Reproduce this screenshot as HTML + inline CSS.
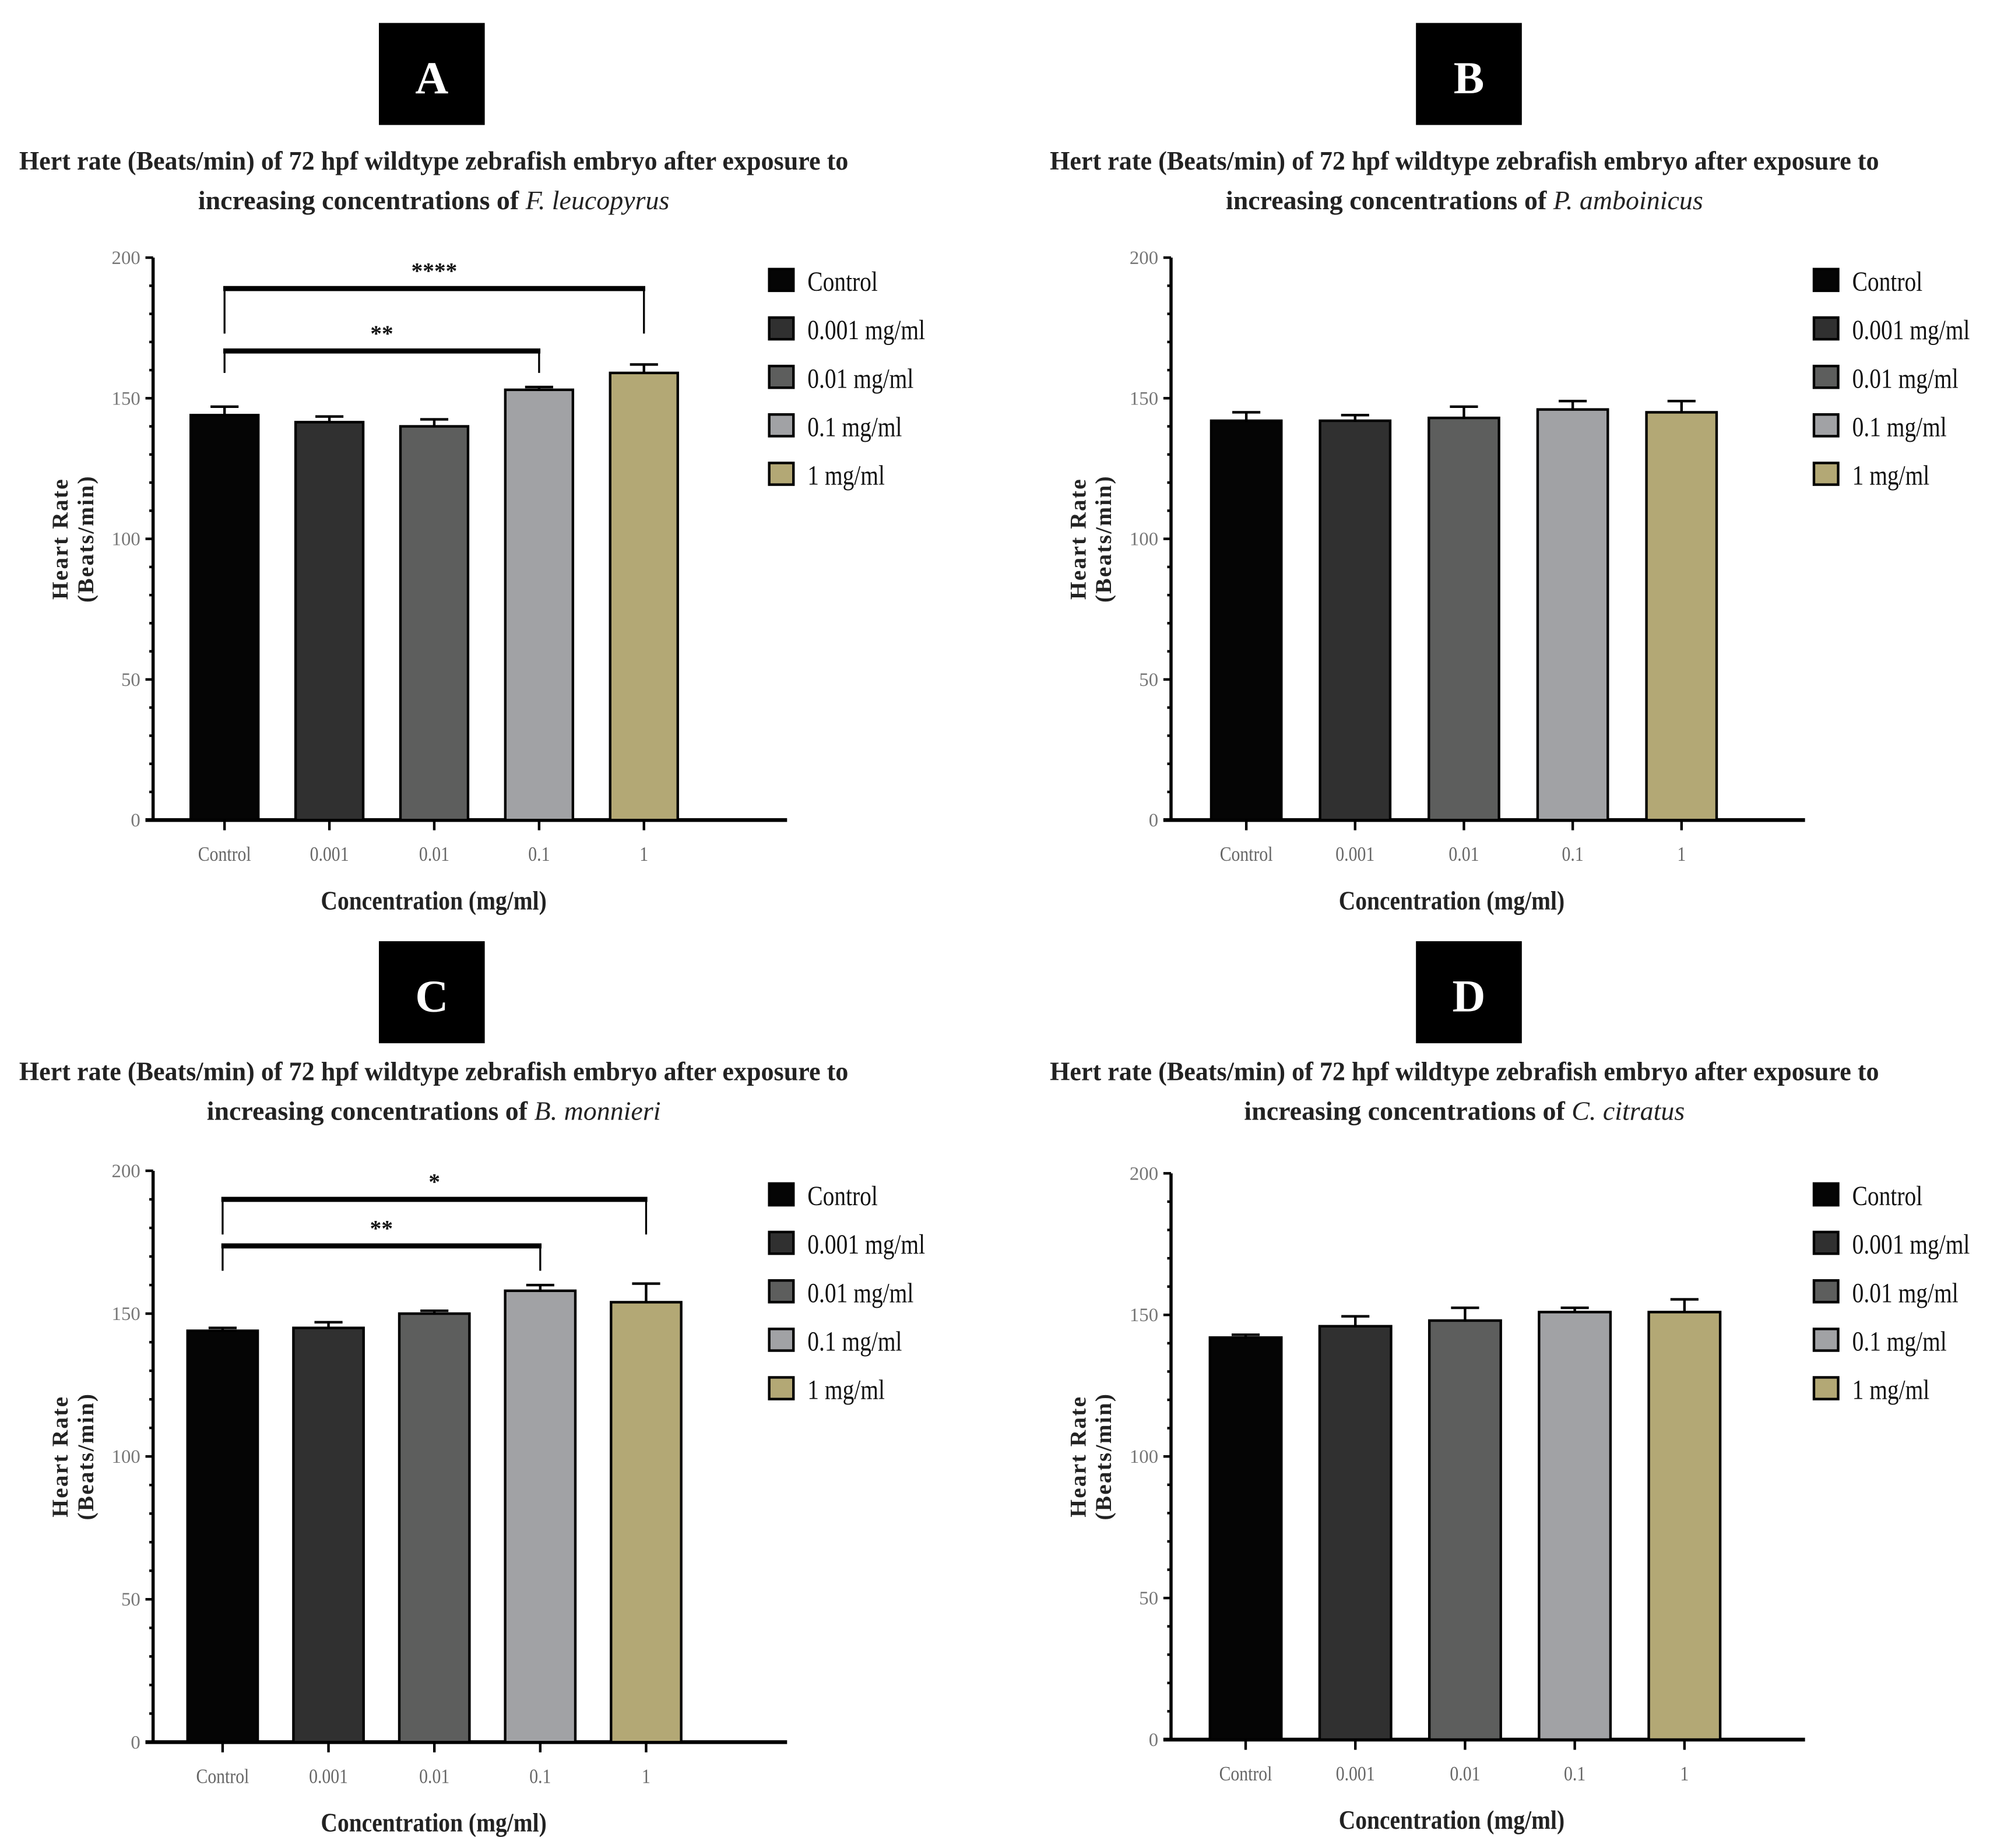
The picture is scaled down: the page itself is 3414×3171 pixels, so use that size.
<!DOCTYPE html>
<html><head><meta charset="utf-8"><style>
html,body{margin:0;padding:0;background:#fff}
svg{display:block}
text{font-family:"Liberation Serif",serif}
</style></head><body>
<svg id="fig" width="3414" height="3171" viewBox="0 0 1560 1449" xmlns="http://www.w3.org/2000/svg"></svg>
<script>
const categories = ["Control","0.001","0.01","0.1","1"];
const legendLabels = ["Control","0.001 mg/ml","0.01 mg/ml","0.1 mg/ml","1 mg/ml"];
const yTicks = [0,50,100,150,200];
const valuesA = [144,141.5,140,153,159];
const errorsA = [3,2,2.5,1,3];
const valuesB = [142,142,143,146,145];
const errorsB = [3,2,4,3,4];
const valuesC = [144,145,150,158,154];
const errorsC = [1,2,1,2,6.5];
const valuesD = [142,146,148,151,151];
const errorsD = [1,3.5,4.5,1.5,4.5];
const species = ["F. leucopyrus","P. amboinicus","B. monnieri","C. citratus"];
const sigA = [{from:0,to:4,bar:189,drop:173,label:"****"},{from:0,to:3,bar:166.8,drop:159,label:"**"}];
const sigC = [{from:0,to:4,bar:190,drop:177.7,label:"*"},{from:0,to:3,bar:173.7,drop:165,label:"**"}];
const colors = ["#050505","#303030","#5d5e5d","#a1a2a5","#b3a875"];

const NS="http://www.w3.org/2000/svg";
const svg=document.getElementById('fig');
function mk(tag,attrs,parent){const e=document.createElementNS(NS,tag);for(const k in attrs)e.setAttribute(k,attrs[k]);(parent||svg).appendChild(e);return e;}
function condense(el,f){const w=el.getComputedTextLength();el.setAttribute('textLength',(w*f).toFixed(1));el.setAttribute('lengthAdjust','spacingAndGlyphs');}

function panel(p){
  const g=mk('g',{});
  
  
  const y=v=>p.y0-(v/200)*(p.y0-p.y200);
  const box=mk('rect',{x:p.boxX,y:p.boxY,width:83,height:80,fill:'#000'},g);
  
  
  const lt=mk('text',{x:p.boxX+41.5,y:p.boxY+55,'text-anchor':'middle','font-size':36,'font-weight':'bold',fill:'#fff'},g);
  lt.textContent=p.letter;
  
  
  const t1=mk('text',{x:p.tcx,y:p.ty1,'text-anchor':'middle','font-size':21,'font-weight':'bold',fill:'#222',textLength:650,lengthAdjust:'spacingAndGlyphs'},g);
  t1.textContent="Hert rate (Beats/min) of 72 hpf wildtype zebrafish embryo after exposure to";
  
  
  const t2=mk('text',{x:p.tcx,y:p.ty1+31,'text-anchor':'middle','font-size':21,'font-weight':'bold',fill:'#222'},g);
  
  
  const s1=mk('tspan',{},t2);s1.textContent="increasing concentrations of  ";
  const s2=mk('tspan',{'font-style':'italic','font-weight':'normal'},t2);s2.textContent=p.species;
  const ax=mk('line',{x1:p.ax,y1:p.y200,x2:p.ax,y2:p.y0+1,stroke:'#000','stroke-width':2.5},g);
  
  
  const xa=mk('line',{x1:p.ax-6,y1:p.y0,x2:p.ax+497,y2:p.y0,stroke:'#000','stroke-width':3},g);
  
  
  for(let v=0;v<=200;v+=10){mk('line',{x1:p.ax-(v%50===0?6:3),y1:y(v),x2:p.ax,y2:y(v),stroke:'#000','stroke-width':2},g);}
  yTicks.forEach(v=>{const tt=mk('text',{x:p.ax-10,y:y(v)+5,'text-anchor':'end','font-size':15,fill:'#777'},g);tt.textContent=v;
    
    });
  const yt=mk('text',{transform:`translate(${p.ax-63},${(p.y0+p.y200)/2}) rotate(-90)`,'text-anchor':'middle','font-size':18,'font-weight':'bold',fill:'#222','letter-spacing':1},g);
  
  
  const a1=mk('tspan',{x:0,dy:-4},yt);a1.textContent="Heart Rate";
  const a2=mk('tspan',{x:0,dy:20},yt);a2.textContent="(Beats/min)";
  const xc=i=>p.x0+i*p.step;
  p.values.forEach((v,i)=>{
    const cx=xc(i);
    const b=mk('rect',{x:cx-p.bw/2,y:y(v),width:p.bw,height:p.y0-y(v),fill:colors[i],stroke:'#000','stroke-width':2},g);
    
    
    const e=p.errors[i];
    const el=mk('path',{d:`M${cx},${y(v)} V${y(v+e)} M${cx-11},${y(v+e)} H${cx+11}`,stroke:'#000','stroke-width':2,fill:'none'},g);
    
    
    mk('line',{x1:cx,y1:p.y0,x2:cx,y2:p.y0+8,stroke:'#000','stroke-width':2},g);
    const tl=mk('text',{x:cx,y:p.y0+32,'text-anchor':'middle','font-size':16,fill:'#666'},g);
    tl.textContent=categories[i];
    
    
    condense(tl,0.85);
  });
  const xt=mk('text',{x:p.ax+220,y:p.y0+70,'text-anchor':'middle','font-size':21,'font-weight':'bold',fill:'#222'},g);
  xt.textContent="Concentration (mg/ml)";
  
  
  condense(xt,0.86);
  (p.sig||[]).forEach(s=>{
    const x1=xc(s.from),x2=xc(s.to);
    const br=mk('path',{d:`M${x1},${y(s.drop)} V${y(s.bar)} M${x2},${y(s.drop)} V${y(s.bar)}`,stroke:'#000','stroke-width':1.5,fill:'none'},g);
    
    
    mk('line',{x1:x1-1,y1:y(s.bar),x2:x2+1,y2:y(s.bar),stroke:'#000','stroke-width':4},g);
    const st=mk('text',{x:(x1+x2)/2,y:y(s.bar)-8,'text-anchor':'middle','font-size':18,'font-weight':'bold',fill:'#111'},g);
    st.textContent=s.label;
    
    
  });
  legendLabels.forEach((l,i)=>{
    const ly=p.ly+i*38;
    const r=mk('rect',{x:p.lx,y:ly-9,width:19,height:17,fill:colors[i],stroke:'#000','stroke-width':2},g);
    
    
    const tx=mk('text',{x:p.lx+30,y:ly+8,'font-size':22,fill:'#111'},g);
    tx.textContent=l;
    
    
    condense(tx,0.82);
  });
}
panel({letter:'A',boxX:297,boxY:18,tcx:340,ty1:133,species:species[0],ax:120,y0:643,y200:202,x0:176,step:82.2,bw:53,values:valuesA,errors:errorsA,sig:sigA,lx:603,ly:220});
panel({letter:'B',boxX:1110,boxY:18,tcx:1148,ty1:133,species:species[1],ax:918,y0:643,y200:202,x0:977,step:85.3,bw:55,values:valuesB,errors:errorsB,lx:1422,ly:220});
panel({letter:'C',boxX:297,boxY:738,tcx:340,ty1:847,species:species[2],ax:120,y0:1366,y200:918,x0:174.5,step:83,bw:55,values:valuesC,errors:errorsC,sig:sigC,lx:603,ly:937});
panel({letter:'D',boxX:1110,boxY:738,tcx:1148,ty1:847,species:species[3],ax:918,y0:1364,y200:920,x0:976.5,step:86,bw:56,values:valuesD,errors:errorsD,lx:1422,ly:937});
</script>
</body></html>
